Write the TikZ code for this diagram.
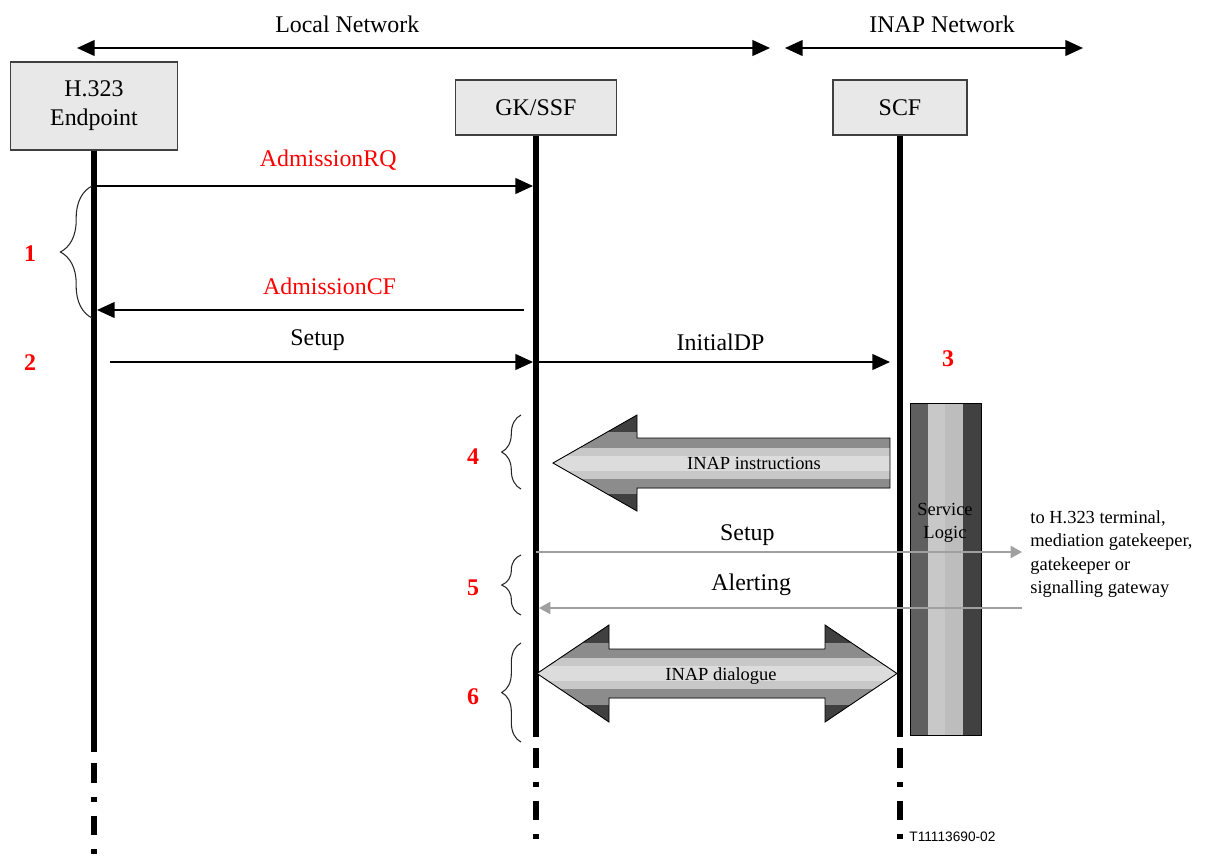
\documentclass[tikz,border=0pt]{standalone}
\usepackage{fontspec}
\setmainfont{Liberation Serif}
\newfontfamily\figfont{Liberation Sans}
\usetikzlibrary{arrows.meta,decorations.pathreplacing}

\definecolor{boxgray}{HTML}{E8E8E8}
\definecolor{relaygray}{HTML}{A0A0A0}
\definecolor{band1}{HTML}{DCDCDC}
\definecolor{band2}{HTML}{C8C8C8}
\definecolor{band3}{HTML}{8C8C8C}
\definecolor{band4}{HTML}{404040}
\definecolor{logicA}{HTML}{5F5F5F}
\definecolor{logicB}{HTML}{C8C8C8}
\definecolor{logicC}{HTML}{BDBDBD}
\definecolor{logicD}{HTML}{414141}

\newcommand{\msgsize}{\fontsize{13.6}{16.4}\selectfont}
\newcommand{\notesize}{\fontsize{10.5}{13.3}\selectfont}

% shaded bands of the fat INAP arrows: #1 centre y, #2 and #3 the x range
\newcommand{\inapbands}[3]{%
  \fill[band4] (#2,#1-49) rectangle (#3,#1+49);
  \fill[band3] (#2,#1-31) rectangle (#3,#1+31);
  \fill[band2] (#2,#1-15.5) rectangle (#3,#1+15.5);
  \fill[band1] (#2,#1-7.5) rectangle (#3,#1+7.5);}

\begin{document}
\begin{tikzpicture}[x=0.02cm, y=-0.02cm, semithick, font=\msgsize,
  >={Triangle[length=10pt,width=9pt]},
  entity/.style={draw=black!75, fill=boxgray, align=center},
  lifeline/.style={line width=3.4pt},
  lifetail/.style={line width=3.4pt, dash pattern=on 11.3pt off 7.9pt on 2.8pt off 7.9pt},
  msg/.style={->, line width=0.8pt, shorten >=1.7pt},
  relay/.style={color=relaygray, line width=0.9pt, -{Triangle[length=6.5pt,width=7pt]}},
  num/.style={text=red, font=\msgsize\bfseries},
  grp/.style={decorate, line width=0.6pt, black!85},
  fat/.style={draw=black, line width=0.5pt}]

  \useasboundingbox (0,0) rectangle (1215,860);

  % networks
  \coordinate (local west) at (77,48);
  \coordinate (local east) at (770,48);
  \coordinate (inap west) at (785,48);
  \coordinate (inap east) at (1083,48);
  \draw [<->, line width=0.8pt] (local west) -- node[above=5pt, pos=0.39] {Local Network} (local east);
  \draw [<->, line width=0.8pt] (inap west) -- node[above=5pt, pos=0.527] {INAP Network} (inap east);

  % entities and lifelines
  \node[entity, minimum width=3.34cm, minimum height=1.76cm] (ep) at (94,106) {H.323\\Endpoint};
  \node[entity, minimum width=3.22cm, minimum height=1.1cm] (gk) at (536,107.5) {GK/SSF};
  \node[entity, minimum width=2.68cm, minimum height=1.1cm] (scf) at (900,107.5) {SCF};

  \draw [lifeline] (ep.south) -- (ep |- 0,752) coordinate (ep end);
  \draw [lifeline] (gk.south) -- (gk |- 0,737) coordinate (gk end);
  \draw [lifeline] (scf.south) -- (scf |- 0,737) coordinate (scf end);
  \draw [lifetail] (ep end) ++(0,11) -- ++(0,97);
  \draw [lifetail] (gk end) ++(0,11) -- ++(0,97);
  \draw [lifetail] (scf end) ++(0,11) -- ++(0,97);

  % admission and call set-up
  \draw [msg] (ep |- 0,186) -- node[above=5pt, pos=0.53, text=red] {AdmissionRQ} (gk |- 0,186);
  \draw [msg, shorten <=6.8pt] (gk |- 0,310) -- node[above=5pt, pos=0.467, text=red] {AdmissionCF} (ep |- 0,310);
  \draw [msg, shorten <=9pt] (ep |- 0,362) -- node[above=2.5pt, pos=0.506] {Setup} (gk |- 0,362);
  \draw [msg, shorten >=5.7pt] (gk |- 0,362) -- node[above=2.5pt, pos=0.507] {InitialDP} (scf |- 0,362);

  % service logic
  \fill[logicA] (910,403) rectangle (928,735);
  \fill[logicB] (928,403) rectangle (945,735);
  \fill[logicC] (945,403) rectangle (963,735);
  \fill[logicD] (963,403) rectangle (981,735);
  \draw [thin] (910,403) rectangle (981,735);
  \node[font=\notesize, align=center] (logic) at (945,523) {Service\\Logic};

  % INAP arrows
  \draw [fat, path picture={\inapbands{463}{553}{890}}]
    (553,463) -- (637,415) -- (637,438) -- (890,438) -- (890,488) -- (637,488) -- (637,511) -- cycle;
  \node[font=\notesize] (instr) at (754,463) {INAP instructions};

  \draw [fat, path picture={\inapbands{673.5}{537}{897}}]
    (537,673.5) -- (609,625) -- (609,649) -- (825,649) -- (825,625) -- (897,673.5)
    -- (825,722) -- (825,698) -- (609,698) -- (609,722) -- cycle;
  \node[font=\notesize] (dialogue) at (721,676) {INAP dialogue};

  % outgoing leg
  \coordinate (relay) at (1022,552);
  \draw [relay] (gk |- relay) -- node[above, pos=0.435, black] {Setup} (relay);
  \draw [relay, shorten >=1.7pt] (relay |- 0,608) -- node[above=3pt, pos=0.557, black] {Alerting} (gk |- 0,608);
  \node[font=\notesize, align=left, anchor=west] (dest) at (1024,554)
    {to H.323 terminal,\\mediation gatekeeper,\\gatekeeper or\\signalling gateway};

  % phases
  \draw [grp, decoration={brace, amplitude=18pt}] (92,318) -- (92,186);
  \draw [grp, decoration={brace, amplitude=11pt}] (521,489) -- (521,415);
  \draw [grp, decoration={brace, amplitude=11pt}] (521,615) -- (521,555);
  \draw [grp, decoration={brace, amplitude=11pt}] (521,742) -- (521,643);

  \node[num] (n1) at (30,254) {1};
  \node[num] (n2) at (30,363) {2};
  \node[num] (n3) at (948,359) {3};
  \node[num] (n4) at (473,457) {4};
  \node[num] (n5) at (473,588) {5};
  \node[num] (n6) at (473,697) {6};

  \node[font={\fontsize{7.8}{9}\figfont}, anchor=west] (fig id) at (903,837) {T11113690-02};
\end{tikzpicture}
\end{document}
